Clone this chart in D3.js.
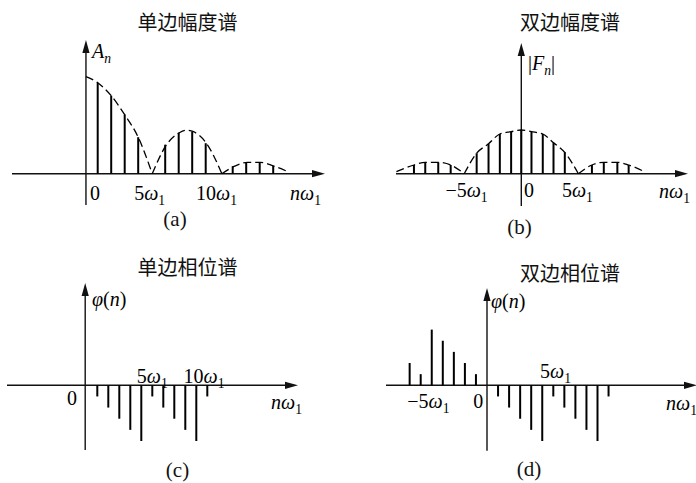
<!DOCTYPE html>
<html><head><meta charset="utf-8">
<script src="https://cdn.jsdelivr.net/npm/d3@7"></script>
<style>body{margin:0;background:#fff}svg{display:block}</style>
</head><body>
<svg id="c" width="696" height="483"></svg>
<script>
// ---------------- DATA ----------------
const titles = ["单边幅度谱", "双边幅度谱", "单边相位谱", "双边相位谱"];
const panelTags = ["(a)", "(b)", "(c)", "(d)"];
const axisNamesY = ["A_n", "|F_n|", "φ(n)", "φ(n)"];
const axisNameX = "nω_1";

// (a) single-sided amplitude spectrum (harmonic index k, amplitude)
const aK   = [0, 1, 2, 3, 5, 6, 7, 8, 10, 11, 12, 13];
const aAmp = [0.91, 0.78, 0.59, 0.365, 0.29, 0.41, 0.42, 0.305, 0.075, 0.114, 0.114, 0.078];
const aEnvK = [[-0.87, 0, 1, 2, 3, 4.04], [4.04, 5.1, 6.05, 6.6, 7.1, 8.05, 9.2], [9.2, 10.15, 11.1, 12.05, 13, 14.1]];
const aEnvA = [[0.97, 0.91, 0.78, 0.59, 0.365, 0], [0, 0.29, 0.41, 0.435, 0.42, 0.305, 0], [0, 0.075, 0.114, 0.114, 0.078, 0.02]];
const aTickLabels = ["0", "5ω_1", "10ω_1"];
const aTickPos = [-0.2, 3.85, 8.8];

// (b) double-sided amplitude spectrum
const bW   = [-9.5, -8.5, -7.35, -6.25, -3.95, -2.9, -1.9, -0.9, 0, 0.9, 1.9, 2.85, 3.85, 6.25, 7.3, 8.5, 9.5];
const bAmp = [0.087, 0.114, 0.114, 0.087, 0.205, 0.30, 0.397, 0.42, 0.437, 0.42, 0.397, 0.31, 0.212, 0.087, 0.114, 0.114, 0.087];
const bEnvW = [[-11.05, -9.5, -8.5, -7.35, -6.25, -5.05], [-5.05, -3.95, -2.9, -1.9, -0.9, 0, 0.9, 1.9, 2.85, 3.85, 5.05], [5.05, 6.25, 7.3, 8.5, 9.5, 10.9]];
const bEnvA = [[0.02, 0.087, 0.114, 0.114, 0.087, 0], [0, 0.205, 0.30, 0.397, 0.42, 0.437, 0.42, 0.397, 0.31, 0.212, 0], [0, 0.087, 0.114, 0.114, 0.087, 0.02]];
const bTickLabels = ["−5ω_1", "0", "5ω_1"];
const bTickPos = [-4.85, 0.68, 4.96];

// (c) single-sided phase spectrum
const cN     = [1, 2, 3, 4, 5, 6, 7, 8, 9, 10, 11];
const cPhase = [-1, -2, -3, -4, -5, -1, -2, -3, -4, -5, -1];
const cTickLabels = ["0", "5ω_1", "10ω_1"];
const cTickPos = [-1.3, 6.0, 10.7];
const cTickAbove = [false, true, true];

// (d) double-sided phase spectrum
const dN     = [-7, -6, -5, -4, -3, -2, -1, 1, 2, 3, 4, 5, 6, 7, 8, 9, 10, 11];
const dPhase = [2, 1, 5, 4, 3, 2, 1, -1, -2, -3, -4, -5, -1, -2, -3, -4, -5, -1];
const dTickLabels = ["−5ω_1", "0", "5ω_1"];
const dTickPos = [-5.3, -0.8, 6.2];
const dTickAbove = [false, false, true];

// ---------------- DRAWING ----------------
const svg = d3.select("#c");
const SERIF = "'Liberation Serif','Times New Roman',serif";
const CJK = "'Noto Sans CJK SC','Noto Sans CJK JP',sans-serif";
const FS = 20;

function rich(g, x, y, str, size, anchor) {
  const t = g.append("text").attr("x", x).attr("y", y)
    .attr("text-anchor", anchor || "middle")
    .style("font-family", SERIF).style("font-size", size + "px").attr("fill", "#000");
  let shift = 0;
  for (let i = 0; i < str.length; i++) {
    let ch = str[i], sub = false;
    if (ch === "_") { sub = true; ch = str[++i]; }
    const ts = t.append("tspan").text(ch);
    const target = sub ? size * 0.27 : 0;
    if (target !== shift) { ts.attr("dy", target - shift); shift = target; }
    if (/[A-Za-z\u03b1-\u03c9]/.test(ch)) ts.style("font-style", "italic");
    if (sub) ts.style("font-size", (size * 0.68) + "px");
  }
  return t;
}

function arrow(g, x1, y1, x2, y2) {
  const len = 13, hw = 3.6;
  const dx = x2 - x1, dy = y2 - y1, L = Math.hypot(dx, dy), ux = dx / L, uy = dy / L;
  g.append("line").attr("x1", x1).attr("y1", y1).attr("x2", x2 - ux * len * 0.8).attr("y2", y2 - uy * len * 0.8)
    .attr("stroke", "#111").attr("stroke-width", 1.4);
  const bx = x2 - ux * len, by = y2 - uy * len;
  g.append("path").attr("d", `M${x2},${y2}L${bx - uy * hw},${by + ux * hw}L${bx + uy * hw},${by - ux * hw}Z`).attr("fill", "#111");
}

function title(txt, cx, cy) {
  svg.append("text").attr("x", cx).attr("y", cy).attr("text-anchor", "middle").attr("dominant-baseline", "central")
    .style("font-family", CJK).style("font-size", "20px").attr("fill", "#111").text(txt);
}
function tag(txt, cx, cy) {
  svg.append("text").attr("x", cx).attr("y", cy).attr("text-anchor", "middle").attr("dominant-baseline", "central")
    .style("font-family", SERIF).style("font-size", "21px").attr("fill", "#111").text(txt);
}

function stems(g, xs, vs, x, y) {
  g.selectAll(null).data(xs.map((d, i) => [d, vs[i]])).join("line")
    .attr("x1", d => x(d[0])).attr("x2", d => x(d[0]))
    .attr("y1", y(0)).attr("y2", d => y(d[1]))
    .attr("stroke", "#000").attr("stroke-width", 2);
}
function envelope(g, xsArr, ysArr, x, y) {
  const line = d3.line().x(d => x(d[0])).y(d => y(d[1])).curve(d3.curveMonotoneX);
  xsArr.forEach((xs, j) => {
    g.append("path").attr("d", line(xs.map((d, i) => [d, ysArr[j][i]])))
      .attr("fill", "none").attr("stroke", "#000").attr("stroke-width", 1.3).attr("stroke-dasharray", "8,4");
  });
}

// ---- Panel (a)
{
  const g = svg.append("g");
  const x = d3.scaleLinear().domain([0, 13]).range([97.7, 273.2]);
  const y = d3.scaleLinear().domain([0, 1]).range([173.7, 73.7]);
  arrow(g, 12, y(0), 325, y(0));
  arrow(g, x(-0.87), 205, x(-0.87), 40);
  envelope(g, aEnvK, aEnvA, x, y);
  stems(g, aK, aAmp, x, y);
  aTickLabels.forEach((t, i) => rich(g, x(aTickPos[i]), 200, t, FS));
  rich(g, 290, 200, axisNameX, FS, "start");
  rich(g, 92, 58, axisNamesY[0], FS, "start");
  title(titles[0], 187.5, 21);
  tag(panelTags[0], 175, 219);
}
// ---- Panel (b)
{
  const g = svg.append("g");
  const x = d3.scaleLinear().domain([0, 5]).range([521.3, 577.8]);
  const y = d3.scaleLinear().domain([0, 1]).range([173.7, 73.7]);
  arrow(g, 396, y(0), 688, y(0));
  arrow(g, x(0), 206, x(0), 43);
  envelope(g, bEnvW, bEnvA, x, y);
  stems(g, bW, bAmp, x, y);
  bTickLabels.forEach((t, i) => rich(g, x(bTickPos[i]), 197, t, FS));
  rich(g, 659, 198, axisNameX, FS, "start");
  rich(g, 528, 70, axisNamesY[1], FS, "start");
  title(titles[1], 570, 21);
  tag(panelTags[1], 519.5, 227);
}
// ---- Panel (c)
{
  const g = svg.append("g");
  const x = d3.scaleLinear().domain([0, 10]).range([86.3, 196.3]);
  const y = d3.scaleLinear().domain([0, -5]).range([385.3, 441]);
  arrow(g, 7, y(0), 298, y(0));
  arrow(g, x(-0.1), 450, x(-0.1), 283);
  stems(g, cN, cPhase, x, y);
  cTickLabels.forEach((t, i) => rich(g, x(cTickPos[i]), cTickAbove[i] ? 383 : 405, t, FS));
  rich(g, 271, 409, axisNameX, FS, "start");
  rich(g, 92, 306, axisNamesY[2], FS, "start");
  title(titles[2], 187.5, 266.5);
  tag(panelTags[2], 177.5, 469.5);
}
// ---- Panel (d)
{
  const g = svg.append("g");
  const x = d3.scaleLinear().domain([0, 10]).range([487, 597.5]);
  const y = d3.scaleLinear().domain([0, -5]).range([385.3, 441]);
  arrow(g, 386, y(0), 697, y(0));
  arrow(g, x(0), 450.7, x(0), 288);
  stems(g, dN, dPhase, x, y);
  dTickLabels.forEach((t, i) => rich(g, x(dTickPos[i]), dTickAbove[i] ? 378 : 408, t, FS));
  rich(g, 666, 410, axisNameX, FS, "start");
  rich(g, 491, 308, axisNamesY[3], FS, "start");
  title(titles[3], 570, 272);
  tag(panelTags[3], 529, 469);
}
</script>
</body></html>
